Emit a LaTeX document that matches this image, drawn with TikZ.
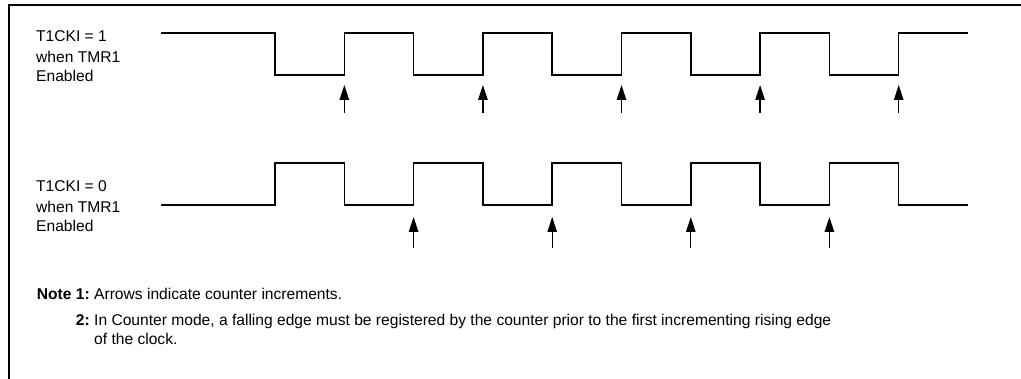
\documentclass[tikz,border=0pt]{standalone}
\usepackage{fontspec}
\setmainfont{Liberation Sans}
\usetikzlibrary{arrows.meta}
\begin{document}
\begin{tikzpicture}[x=1pt,y=-1pt,
  wave/.style={line width=1.5pt, line join=miter},
  frameline/.style={line width=2pt},
  incr/.style={line width=1.3pt,-{Triangle[length=15pt,width=9.5pt]}},
  lbl/.style={anchor=base west, inner sep=0pt, font=\fontsize{15.6}{19}\selectfont},
  lble/.style={lbl, anchor=base east}]
\useasboundingbox (0,0) rectangle (1021,379);
% frame
\draw[frameline] (9,379) -- (9,5) -- (1021,5);
% waveform 1
\draw[wave] (161,33) -- (275,33) -- (275,75) -- (344.3,75) -- (344.3,33) -- (413.6,33) -- (413.6,75) -- (482.9,75) -- (482.9,33) -- (552.2,33) -- (552.2,75) -- (621.5,75) -- (621.5,33) -- (690.8,33) -- (690.8,75) -- (760.1,75) -- (760.1,33) -- (829.4,33) -- (829.4,75) -- (898.7,75) -- (898.7,33) -- (968,33);
% waveform 2
\draw[wave] (161,205) -- (275,205) -- (275,163) -- (344.3,163) -- (344.3,205) -- (413.6,205) -- (413.6,163) -- (482.9,163) -- (482.9,205) -- (552.2,205) -- (552.2,163) -- (621.5,163) -- (621.5,205) -- (690.8,205) -- (690.8,163) -- (760.1,163) -- (760.1,205) -- (829.4,205) -- (829.4,163) -- (898.7,163) -- (898.7,205) -- (968,205);
% increment arrows
\foreach \x [count=\i] in {344.3,482.9,621.5,760.1,898.7} {
  \coordinate (p\i) at (\x,113);
  \coordinate (q\i) at (\x,85);
  \draw[incr] (p\i) -- (q\i);
}
\foreach \x [count=\i] in {413.6,552.2,690.8,829.4} {
  \coordinate (r\i) at (\x,248);
  \coordinate (s\i) at (\x,217);
  \draw[incr] (r\i) -- (s\i);
}
% labels
\node[lbl] (l1a) at (36,42) {T1CKI = 1};
\node[lbl] (l1b) at (36,63) {when TMR1};
\node[lbl] (l1c) at (36,82) {Enabled};
\node[lbl] (l2a) at (36,192) {T1CKI = 0};
\node[lbl] (l2b) at (36,213) {when TMR1};
\node[lbl] (l2c) at (36,232) {Enabled};
% notes
\node[lble] (n1) at (90,300) {\bfseries Note 1:};
\node[lbl] (n1t) at (94,300) {Arrows indicate counter increments.};
\node[lble] (n2) at (90,326) {\bfseries 2:};
\node[lbl] (n2t) at (94,326) {In Counter mode, a falling edge must be registered by the counter prior to the first incrementing rising edge};
\node[lbl] (n2u) at (94,345) {of the clock.};
\end{tikzpicture}
\end{document}
